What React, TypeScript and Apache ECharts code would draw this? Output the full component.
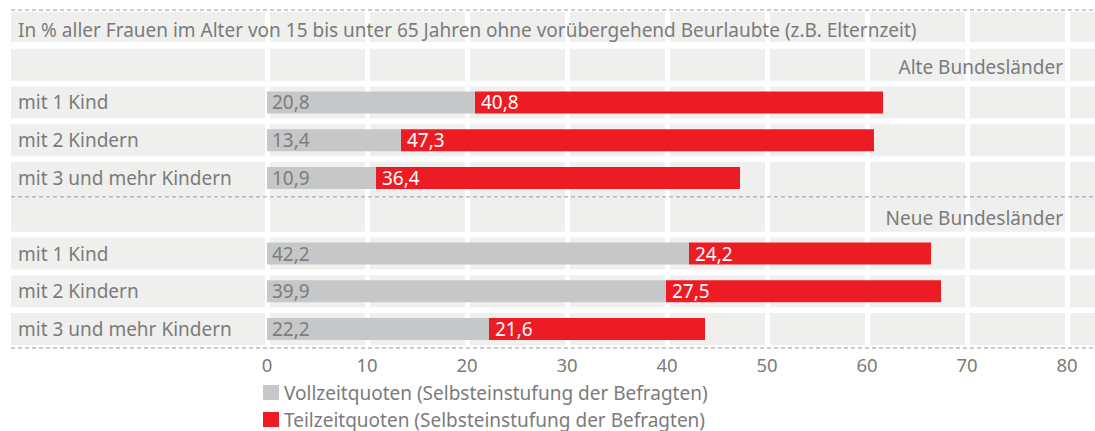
import React, { useEffect, useRef } from "react";
import * as echarts from "echarts";

const categories = [
  "In % aller Frauen im Alter von 15 bis unter 65 Jahren ohne vorübergehend Beurlaubte (z.B. Elternzeit)",
  "Alte Bundesländer",
  "mit 1 Kind",
  "mit 2 Kindern",
  "mit 3 und mehr Kindern",
  "Neue Bundesländer",
  "mit 1 Kind",
  "mit 2 Kindern",
  "mit 3 und mehr Kindern",
];
const rowKinds = ["title", "header", "data", "data", "data", "header", "data", "data", "data"];
const vollzeit = [null, null, 20.8, 13.4, 10.9, null, 42.2, 39.9, 22.2];
const teilzeit = [null, null, 40.8, 47.3, 36.4, null, 24.2, 27.5, 21.6];
const xTicks = [0, 10, 20, 30, 40, 50, 60, 70, 80];
const seriesNames = [
  "Vollzeitquoten (Selbsteinstufung der Befragten)",
  "Teilzeitquoten (Selbsteinstufung der Befragten)",
];

const TEXT = "#7b7b7b";
const BG = "#efefee";
const FONT = "Noto Sans";
const FS = 19;
const LEFT_EDGE = 11;
const RIGHT_EDGE = 1095;

const fmt = (v: number) => v.toFixed(1).replace(".", ",");

export default function App() {
  const ref = useRef<HTMLDivElement>(null);
  useEffect(() => {
    const chart = echarts.init(ref.current!, null, { renderer: "svg" });
    const option: any = {
      animation: false,
      textStyle: { fontFamily: FONT },
      grid: { left: 267, width: 800, top: 8, height: 340, containLabel: false },
      xAxis: {
        type: "value",
        min: 0,
        max: 80,
        interval: 10,
        z: 5,
        axisLine: { show: false },
        axisTick: { show: false },
        splitLine: { show: false },
        axisLabel: { color: TEXT, fontSize: 18.5, margin: 7, fontFamily: FONT },
      },
      yAxis: {
        type: "category",
        inverse: true,
        z: 5,
        data: categories.map((_, i) => String(i)),
        axisLine: { show: false },
        axisTick: { show: false },
        splitLine: { show: false },
        axisLabel: {
          align: "left",
          margin: 249,
          color: TEXT,
          fontSize: FS,
          fontFamily: FONT,
          interval: 0,
          formatter: (v: string) => {
            const i = +v;
            if (rowKinds[i] === "header") return "";
            if (rowKinds[i] === "title") return "{t|" + categories[i] + "}";
            return categories[i];
          },
          rich: {
            t: { color: TEXT, fontSize: FS, fontFamily: FONT, padding: [6, 0, 0, 0] },
          },
        },
      },
      legend: {
        orient: "vertical",
        left: 263,
        top: 383,
        padding: 0,
        itemWidth: 16,
        itemHeight: 15,
        itemGap: 8,
        icon: "rect",
        data: seriesNames,
        textStyle: { color: TEXT, fontSize: FS, fontFamily: FONT, lineHeight: 19 },
      },
      series: [
        {
          type: "custom",
          z: 1,
          silent: true,
          clip: false,
          data: categories.map((_, i) => [0, i]),
          encode: { x: 0, y: 1 },
          renderItem: (params: any, api: any) => {
            const i = api.value(1);
            const kind = rowKinds[i];
            const [, cy] = api.coord([0, i]);
            const band = api.size([0, 1])[1];
            let top = cy - 16;
            let bottom = cy + 16;
            if (kind === "title") {
              top = cy - 15;
              bottom = cy + 15;
            }
            if (kind === "header" && i > 1) top = cy - 22;
            const children: any[] = [
              {
                type: "rect",
                shape: { x: LEFT_EDGE, y: top, width: RIGHT_EDGE - LEFT_EDGE, height: bottom - top },
                style: { fill: BG },
              },
            ];
            xTicks.forEach((t) => {
              const [x] = api.coord([t, i]);
              children.push({
                type: "rect",
                shape: { x: x - 2, y: top, width: 5, height: bottom - top },
                style: { fill: "#ffffff" },
              });
            });
            const dash = (y: number) => ({
              type: "line",
              z2: 10,
              shape: { x1: LEFT_EDGE, y1: y, x2: RIGHT_EDGE, y2: y },
              style: { stroke: "#9a9a9a", lineWidth: 1, lineDash: [4, 3] },
            });
            if (kind === "title") children.push(dash(cy - band / 2 + 2));
            if (kind === "header" && i > 1) children.push(dash(cy - band / 2));
            if (i === categories.length - 1) children.push(dash(cy + band / 2));
            if (kind === "header") {
              const [xr] = api.coord([80, i]);
              children.push({
                type: "text",
                z2: 10,
                style: {
                  x: xr - 4,
                  y: cy + 2,
                  text: categories[i],
                  fill: TEXT,
                  fontSize: FS,
                  fontFamily: FONT,
                  align: "right",
                  verticalAlign: "middle",
                },
              });
            }
            return { type: "group", children };
          },
        },
        {
          name: seriesNames[0],
          type: "bar",
          stack: "a",
          z: 2,
          barWidth: 22,
          data: vollzeit,
          itemStyle: { color: "#c6c7c8" },
          label: {
            show: true,
            position: "insideLeft",
            distance: 5,
            color: "#7d7d7d",
            fontSize: FS,
            fontFamily: FONT,
            formatter: (p: any) => fmt(p.value),
          },
        },
        {
          name: seriesNames[1],
          type: "bar",
          stack: "a",
          z: 2,
          barWidth: 22,
          data: teilzeit,
          itemStyle: { color: "#ed1c24" },
          label: {
            show: true,
            position: "insideLeft",
            distance: 6,
            color: "#ffffff",
            fontSize: FS,
            fontFamily: FONT,
            formatter: (p: any) => fmt(p.value),
          },
        },
      ],
    };
    chart.setOption(option);
    return () => chart.dispose();
  }, []);
  return (
    <div
      ref={ref}
      style={{ position: "absolute", left: 0, top: 0, width: 1095, height: 431 }}
    />
  );
}
